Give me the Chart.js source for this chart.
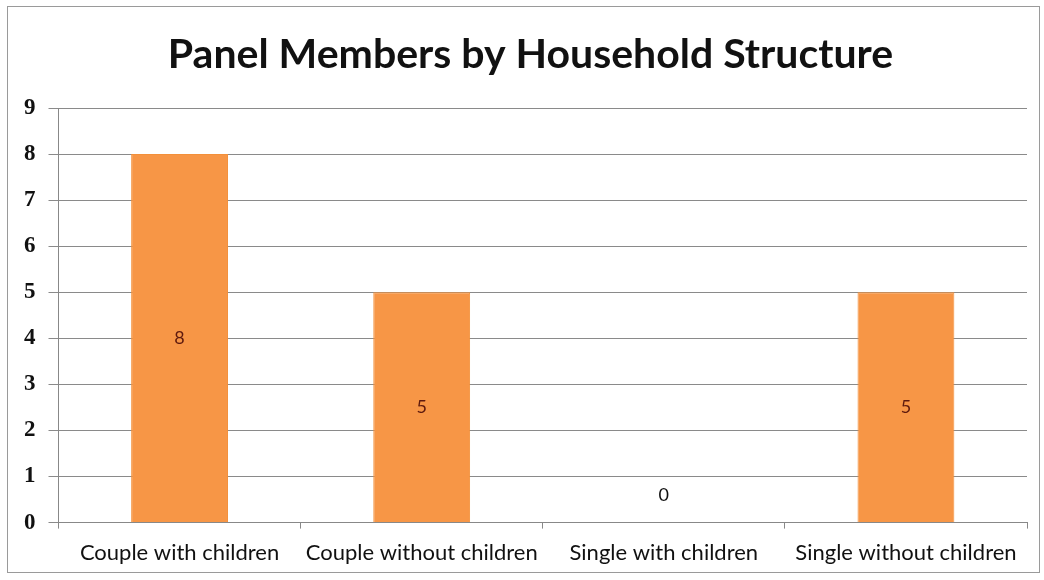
<!DOCTYPE html>
<html>
<head>
<meta charset="utf-8">
<script src="https://cdn.jsdelivr.net/npm/chart.js@4"></script>
<style>
html,body{margin:0;padding:0;background:#fff;}
#wrap{position:absolute;left:0;top:0;width:1044px;height:580px;}
#frame{position:absolute;left:7px;top:6px;width:1033px;height:567px;border:1px solid #9a9a9a;box-sizing:border-box;}
canvas{position:absolute;left:0;top:0;}
</style>
</head>
<body>
<div id="wrap">
<div id="frame"></div>
<canvas id="c" width="1044" height="580"></canvas>
</div>
<script>
const categories = ["Couple with children", "Couple without children", "Single with children", "Single without children"];
const members = [8, 5, 0, 5];
const yTicks = [0, 1, 2, 3, 4, 5, 6, 7, 8, 9];
const chartTitle = "Panel Members by Household Structure";

const valueLabels = {
  id: 'valueLabels',
  afterDatasetsDraw(chart) {
    const ctx = chart.ctx;
    const meta = chart.getDatasetMeta(0);
    const ys = chart.scales.y;
    ctx.save();
    ctx.font = '18px Lato';
    ctx.textAlign = 'center';
    ctx.textBaseline = 'middle';
    meta.data.forEach((bar, i) => {
      const v = chart.data.datasets[0].data[i];
      let y = (bar.y + bar.base) / 2;
      if (v === 0) { ctx.fillStyle = '#111'; y = ys.getPixelForValue(0) - 27; }
      else ctx.fillStyle = '#5e1a0e';
      ctx.fillText(String(v), bar.x, y);
    });
    ctx.restore();
  }
};

const titleDraw = {
  id: 'titleDraw',
  afterDraw(chart) {
    const ctx = chart.ctx;
    ctx.save();
    ctx.font = 'bold 41px Lato';
    ctx.fillStyle = '#111';
    ctx.textAlign = 'center';
    ctx.textBaseline = 'middle';
    ctx.fillText(chartTitle, 530.5, 55);
    ctx.restore();
  }
};

new Chart(document.getElementById('c'), {
  type: 'bar',
  data: {
    labels: categories,
    datasets: [{
      data: members,
      backgroundColor: '#F79646',
      borderColor: '#F3903A',
      borderWidth: 1,
      categoryPercentage: 0.8,
      barPercentage: 0.5
    }]
  },
  options: {
    responsive: false,
    animation: false,
    layout: { padding: { left: 11, right: 17, top: 108, bottom: 3 } },
    plugins: {
      legend: { display: false },
      tooltip: { enabled: false },
      title: { display: false }
    },
    scales: {
      x: {
        grid: { display: true, drawOnChartArea: false, drawTicks: true, tickLength: 6, offset: true, color: '#888' },
        border: { display: true, color: '#888', width: 1 },
        ticks: { color: '#111', font: { family: 'Lato', size: 22 }, padding: 11, maxRotation: 0, autoSkip: false }
      },
      y: {
        min: 0, max: 9,
        afterBuildTicks(axis) { axis.ticks = yTicks.map(v => ({ value: v })); },
        grid: { color: '#8a8a8a', tickLength: 10, lineWidth: 1 },
        border: { display: true, color: '#888', width: 1 },
        ticks: { color: '#111', font: { family: 'Liberation Serif', size: 23, weight: 'bold' }, padding: 13 }
      }
    }
  },
  plugins: [valueLabels, titleDraw]
});
</script>
</body>
</html>
